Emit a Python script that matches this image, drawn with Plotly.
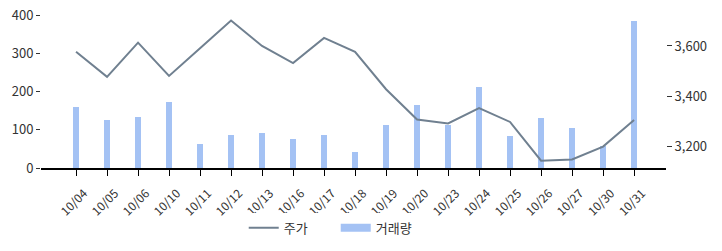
import plotly.graph_objects as go

dates = ["10/04", "10/05", "10/06", "10/10", "10/11", "10/12", "10/13", "10/16", "10/17", "10/18",
         "10/19", "10/20", "10/23", "10/24", "10/25", "10/26", "10/27", "10/30", "10/31"]
price = [3577, 3477, 3613, 3481, 3591, 3701, 3600, 3532, 3632, 3577,
         3428, 3308, 3292, 3353, 3298, 3144, 3149, 3200, 3306]
volume = [159, 125, 133, 172, 63, 86, 92, 76, 86, 42,
          112, 165, 112, 212, 84, 131, 105, 57, 384]

FONT = "Noto Sans CJK KR"
BAR_COLOR = "#a4c2f4"

fig = go.Figure()
fig.add_trace(go.Scatter(x=dates, y=price, name="주가", mode="lines",
                         line=dict(color="#708090", width=2), yaxis="y2"))
fig.add_trace(go.Bar(x=dates, y=volume, name="거래량", marker_color=BAR_COLOR,
                     marker_line_width=0, width=0.19, yaxis="y", showlegend=False))
# legend swatch for the bar series (wide rectangle)
fig.add_trace(go.Scatter(x=[None], y=[None], name="거래량", mode="lines",
                         line=dict(color=BAR_COLOR, width=8), yaxis="y"))

fig.update_layout(
    width=722, height=251,
    margin=dict(l=41, r=56, t=15, b=83),
    plot_bgcolor="white", paper_bgcolor="white",
    font=dict(family=FONT, size=13, color="#333333"),
    showlegend=True,
    legend=dict(orientation="h", xref="container", yref="container",
                x=0.465, xanchor="center", y=0.092, yanchor="middle",
                font=dict(size=13, color="#333333"), traceorder="normal",
                itemwidth=30, entrywidth=47, entrywidthmode="pixels"),
    xaxis=dict(type="category", range=[-1.13, 19.03], showline=True, linecolor="black",
               linewidth=1.5, ticks="outside", ticklen=6, tickcolor="black",
               tickangle=-45, showgrid=False, tickfont=dict(size=12), automargin=False,
               ticklabelstandoff=6, ticklabelshift=8),
    yaxis=dict(range=[0, 400], showline=False, ticks="outside", ticklen=4,
               tickcolor="#333333", showgrid=False, zeroline=False,
               tickvals=[0, 100, 200, 300, 400], tickfont=dict(size=13), automargin=False),
    yaxis2=dict(range=[3115, 3723], overlaying="y", side="right", showline=False,
                ticks="outside", ticklen=5, tickcolor="#333333", showgrid=False,
                zeroline=False, tickvals=[3200, 3400, 3600], tickformat=",",
                tickfont=dict(size=13), automargin=False),
    bargap=0,
)

fig.write_html("out.html")
